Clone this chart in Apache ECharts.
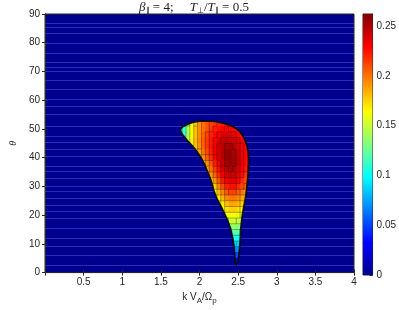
<!DOCTYPE html>
<html><head><meta charset="utf-8">
<script src="https://cdn.jsdelivr.net/npm/echarts@6/dist/echarts.min.js"></script>
<style>html,body{margin:0;padding:0;background:#fff}#c{width:399px;height:310px}</style>
</head><body><div id="c"></div>
<script>
// ---- data ----
const xTickValues = [0.5, 1, 1.5, 2, 2.5, 3, 3.5, 4];
const yTickValues = [0, 10, 20, 30, 40, 50, 60, 70, 80, 90];
const colorbarTicks = [0, 0.05, 0.1, 0.15, 0.2, 0.25];
const valueMax = 0.262;
const contourStep = 0.01;
const kStep = 0.05;
const thetaStep = 2;
const thetaRows = [52, 50, 48, 46, 44, 42, 40, 38, 36, 34, 32, 30, 28, 26, 24, 22, 20, 18, 16, 14, 12, 10, 8, 6, 4, 2];
const rowStartK = [1.85, 1.75, 1.75, 1.80, 1.85, 1.95, 2.00, 2.05, 2.05, 2.10, 2.15, 2.15, 2.20, 2.20, 2.25, 2.30, 2.30, 2.35, 2.40, 2.40, 2.40, 2.45, 2.45, 2.45, 2.45, 2.45];
const rowValues = [
  [0.125, 0.160, 0.178, 0.192, 0.201, 0.208, 0.213, 0.217, 0.221, 0.223, 0.225, 0.225],
  [0.090, 0.115, 0.142, 0.165, 0.180, 0.192, 0.201, 0.209, 0.216, 0.222, 0.226, 0.229, 0.230, 0.229, 0.226, 0.222, 0.218],
  [0.085, 0.113, 0.140, 0.163, 0.180, 0.193, 0.204, 0.213, 0.221, 0.228, 0.233, 0.237, 0.239, 0.238, 0.234, 0.229, 0.224, 0.220],
  [0.125, 0.147, 0.167, 0.182, 0.195, 0.206, 0.215, 0.224, 0.232, 0.239, 0.243, 0.246, 0.245, 0.241, 0.235, 0.229, 0.224],
  [0.150, 0.165, 0.180, 0.193, 0.205, 0.215, 0.225, 0.234, 0.242, 0.248, 0.251, 0.251, 0.247, 0.240, 0.233, 0.227, 0.222],
  [0.172, 0.187, 0.200, 0.211, 0.222, 0.232, 0.241, 0.249, 0.255, 0.256, 0.251, 0.243, 0.235, 0.228, 0.222],
  [0.178, 0.193, 0.206, 0.218, 0.229, 0.240, 0.249, 0.256, 0.258, 0.253, 0.244, 0.235, 0.228, 0.222],
  [0.178, 0.194, 0.208, 0.221, 0.233, 0.244, 0.253, 0.256, 0.253, 0.245, 0.235, 0.227, 0.220],
  [0.165, 0.184, 0.200, 0.214, 0.227, 0.239, 0.247, 0.251, 0.249, 0.241, 0.231, 0.223, 0.216],
  [0.172, 0.190, 0.205, 0.219, 0.231, 0.240, 0.245, 0.243, 0.235, 0.226, 0.217, 0.210],
  [0.172, 0.192, 0.208, 0.222, 0.232, 0.237, 0.236, 0.228, 0.219, 0.211, 0.204],
  [0.158, 0.178, 0.196, 0.210, 0.220, 0.226, 0.225, 0.219, 0.212, 0.206, 0.200],
  [0.165, 0.182, 0.196, 0.207, 0.213, 0.212, 0.206, 0.199, 0.193],
  [0.152, 0.170, 0.184, 0.194, 0.199, 0.199, 0.194, 0.187, 0.181],
  [0.155, 0.169, 0.181, 0.187, 0.187, 0.183, 0.176, 0.170],
  [0.160, 0.171, 0.176, 0.176, 0.172, 0.166],
  [0.150, 0.160, 0.164, 0.164, 0.160, 0.155],
  [0.146, 0.151, 0.151, 0.148, 0.143],
  [0.137, 0.137, 0.134, 0.130],
  [0.121, 0.122, 0.120, 0.116],
  [0.105, 0.106, 0.104, 0.100],
  [0.090, 0.088],
  [0.072, 0.070],
  [0.053, 0.052],
  [0.035, 0.034],
  [0.028, 0.028]
];
// outer edge of the non-zero region (k, theta)
const boundaryK = [1.75, 1.76, 1.79, 1.84, 1.91, 2.00, 2.10, 2.20, 2.28, 2.36, 2.42, 2.48, 2.53, 2.565, 2.59, 2.615, 2.63, 2.635, 2.633, 2.625, 2.61, 2.595, 2.57, 2.55, 2.535, 2.528, 2.52, 2.507, 2.495, 2.478, 2.462, 2.455, 2.45, 2.43, 2.40, 2.35, 2.29, 2.22, 2.18, 2.15, 2.12, 2.09, 2.06, 2.02, 1.97, 1.91, 1.84, 1.78];
const boundaryTheta = [49.3, 50.2, 50.9, 51.6, 52.3, 52.7, 52.8, 52.6, 52.2, 51.6, 51.0, 50.0, 48.8, 47.5, 46.0, 44.0, 42.0, 40.0, 36.0, 33.0, 29.0, 26.0, 22.4, 19.0, 15.5, 12.0, 8.6, 5.5, 3.6, 2.8, 3.4, 5.5, 8.6, 12.0, 15.5, 19.0, 22.4, 26.0, 29.0, 32.0, 34.0, 36.0, 38.0, 40.0, 42.0, 44.0, 46.0, 48.0];
// faint near-zero contour stripes in the background
const stripeTheta = [86.9, 85.5, 83.4, 80.0, 76.6, 73.4, 71.7, 70.0, 67.2, 63.8, 60.3, 57.9, 55.2, 51.0, 47.6, 45.5, 43.1, 40.7, 37.2, 35.2, 32.8, 30.3, 28.3, 25.9, 23.4, 21.4, 19.0, 15.5, 12.0, 9.3, 6.2, 2.8];

// ---- build ----
const jet = ['#00008f', '#0000ff', '#0080ff', '#00ffff', '#80ff80', '#ffff00', '#ff8000', '#ff0000', '#800000'];
const jetRGB = jet.map(h => [parseInt(h.slice(1, 3), 16), parseInt(h.slice(3, 5), 16), parseInt(h.slice(5, 7), 16)]);
function jetColor(v) {
  let t = Math.max(0, Math.min(1, v / valueMax)) * (jetRGB.length - 1);
  const i = Math.min(jetRGB.length - 2, Math.floor(t));
  const f = t - i;
  const a = jetRGB[i], b = jetRGB[i + 1];
  return 'rgb(' + [0, 1, 2].map(j => Math.round(a[j] + (b[j] - a[j]) * f)).join(',') + ')';
}
const cells = [];
const cellMap = new Map();
thetaRows.forEach((t, r) => {
  rowValues[r].forEach((v, i) => {
    const k = Math.round((rowStartK[r] + i * kStep) * 1000) / 1000;
    cells.push([k, t, v]);
    cellMap.set(k.toFixed(3) + '_' + t, v);
  });
});
const band = v => Math.floor(v / contourStep);
const axisCol = '#262626';
const sans = 'Liberation Sans';
const serif = 'Liberation Serif';

const chart = echarts.init(document.getElementById('c'), null, {renderer: 'canvas'});
chart.setOption({
  animation: false,
  backgroundColor: '#ffffff',
  title: {
    text: '{i|β}{s|∥}{n| = 4;     }{i|T}{s|⊥}{n|/}{i|T}{s|∥}{n| = 0.5}',
    left: 189, top: -4, textAlign: 'center',
    textStyle: {
      fontWeight: 'normal',
      rich: {
        i: {fontFamily: serif, fontStyle: 'italic', fontWeight: 'normal', fontSize: 13, color: '#222'},
        n: {fontFamily: serif, fontWeight: 'normal', fontSize: 13, color: '#222'},
        s: {fontFamily: serif, fontWeight: 'normal', fontSize: 8, color: '#222', padding: [6, 0, 0, 0]}
      }
    }
  },
  grid: [
    {left: 27, top: 14, width: 327, height: 261, show: true, backgroundColor: '#00008f', borderColor: axisCol, borderWidth: 1},
    {left: 363, top: 14, width: 11, height: 261, show: true, borderColor: axisCol, borderWidth: 1}
  ],
  xAxis: [
    {type: 'value', gridIndex: 0, min: 0, max: 4, interval: 0.5, position: 'bottom',
     axisLine: {show: true, lineStyle: {color: axisCol}},
     axisTick: {show: true, inside: true, length: 3, lineStyle: {color: axisCol}},
     axisLabel: {show: true, showMinLabel: false, margin: 5, fontFamily: sans, fontSize: 10, color: axisCol,
       formatter: v => (xTickValues.indexOf(v) >= 0 ? String(v) : '')},
     splitLine: {show: false},
     name: 'k V{s|A}/Ω{s|p}', nameLocation: 'middle', nameGap: 17,
     nameTextStyle: {fontFamily: sans, fontSize: 10, color: axisCol,
       rich: {s: {fontFamily: sans, fontSize: 8, color: axisCol, padding: [7, 0, 0, 0]}}}},
    {type: 'value', gridIndex: 0, min: 0, max: 4, interval: 0.5, position: 'top',
     axisLine: {show: true, lineStyle: {color: axisCol}},
     axisTick: {show: true, inside: true, length: 3, lineStyle: {color: axisCol}},
     axisLabel: {show: false}, splitLine: {show: false}},
    {type: 'category', gridIndex: 1, data: ['cb'], show: false}
  ],
  yAxis: [
    {type: 'value', gridIndex: 0, min: 0, max: 90, interval: 10, position: 'left',
     axisLine: {show: true, lineStyle: {color: axisCol}},
     axisTick: {show: true, inside: true, length: 3, lineStyle: {color: axisCol}},
     axisLabel: {margin: 5, fontFamily: sans, fontSize: 10, color: axisCol,
       formatter: v => (yTickValues.indexOf(v) >= 0 ? String(v) : '')},
     splitLine: {show: false},
     name: 'θ', nameLocation: 'middle', nameGap: 21, nameRotate: 90,
     nameTextStyle: {fontFamily: serif, fontStyle: 'italic', fontSize: 10, color: axisCol}},
    {type: 'value', gridIndex: 0, min: 0, max: 90, interval: 10, position: 'right',
     axisLine: {show: true, lineStyle: {color: axisCol}},
     axisTick: {show: true, inside: true, length: 3, lineStyle: {color: axisCol}},
     axisLabel: {show: false}, splitLine: {show: false}},
    {type: 'value', gridIndex: 1, min: 0, max: valueMax, interval: 0.05, position: 'right',
     axisLine: {show: true, lineStyle: {color: axisCol}},
     axisTick: {show: true, inside: true, length: 3, lineStyle: {color: axisCol}},
     axisLabel: {showMaxLabel: false, margin: 4, fontFamily: sans, fontSize: 10, color: axisCol,
       formatter: v => (colorbarTicks.some(c => Math.abs(c - v) < 1e-9) ? String(v) : '')},
     splitLine: {show: false}}
  ],
  series: [
    {
      type: 'custom', xAxisIndex: 0, yAxisIndex: 0, z: 1, silent: true,
      data: stripeTheta.map(t => [0, t]),
      renderItem: (params, api) => {
        const a = api.coord([0, api.value(1)]);
        const b = api.coord([4, api.value(1)]);
        return {type: 'line', shape: {x1: a[0], y1: Math.round(a[1]) + 0.5, x2: b[0], y2: Math.round(b[1]) + 0.5},
          style: {stroke: 'rgba(95,95,225,0.45)', lineWidth: 1}};
      }
    },
    {
      type: 'custom', xAxisIndex: 0, yAxisIndex: 0, z: 2, silent: true,
      data: [[cells[0][0], cells[0][1]]],
      renderItem: (params, api) => {
        const pts = boundaryK.map((k, i) => api.coord([k, boundaryTheta[i]]));
        const items = cells.map(c => {
          const p0 = api.coord([c[0] - kStep / 2, c[1] + thetaStep / 2]);
          const p1 = api.coord([c[0] + kStep / 2, c[1] - thetaStep / 2]);
          return {
            type: 'rect',
            shape: {x: p0[0], y: p0[1], width: p1[0] - p0[0] + 0.6, height: p1[1] - p0[1] + 0.6},
            style: {fill: jetColor(c[2]), stroke: null, lineWidth: 0}
          };
        });
        // thin dark contour-level edges between neighbouring cells in different bands
        const edgeStyle = {stroke: 'rgba(0,0,0,0.5)', lineWidth: 0.6};
        cells.forEach(c => {
          const b = band(c[2]);
          const kr = (Math.round((c[0] + kStep) * 1000) / 1000).toFixed(3);
          const right = cellMap.get(kr + '_' + c[1]);
          if (right !== undefined && band(right) !== b) {
            const a = api.coord([c[0] + kStep / 2, c[1] + thetaStep / 2]);
            const e = api.coord([c[0] + kStep / 2, c[1] - thetaStep / 2]);
            items.push({type: 'line', shape: {x1: a[0], y1: a[1], x2: e[0], y2: e[1]}, style: edgeStyle});
          }
          const below = cellMap.get(c[0].toFixed(3) + '_' + (c[1] - thetaStep));
          if (below !== undefined && band(below) !== b) {
            const a = api.coord([c[0] - kStep / 2, c[1] - thetaStep / 2]);
            const e = api.coord([c[0] + kStep / 2, c[1] - thetaStep / 2]);
            items.push({type: 'line', shape: {x1: a[0], y1: a[1], x2: e[0], y2: e[1]}, style: edgeStyle});
          }
        });
        return {
          type: 'group',
          children: [
            {type: 'group', children: items, clipPath: {type: 'polygon', shape: {points: pts}}},
            {type: 'polygon', shape: {points: pts}, style: {fill: null, stroke: 'rgba(8,8,20,0.9)', lineWidth: 1.8}}
          ]
        };
      }
    },
    {
      type: 'bar', xAxisIndex: 2, yAxisIndex: 2, silent: true, barWidth: '100%',
      data: [valueMax],
      itemStyle: {
        color: new echarts.graphic.LinearGradient(0, 1, 0, 0,
          jet.map((c, i) => ({offset: i / (jet.length - 1), color: c})))
      }
    }
  ]
});
</script>
</body></html>
